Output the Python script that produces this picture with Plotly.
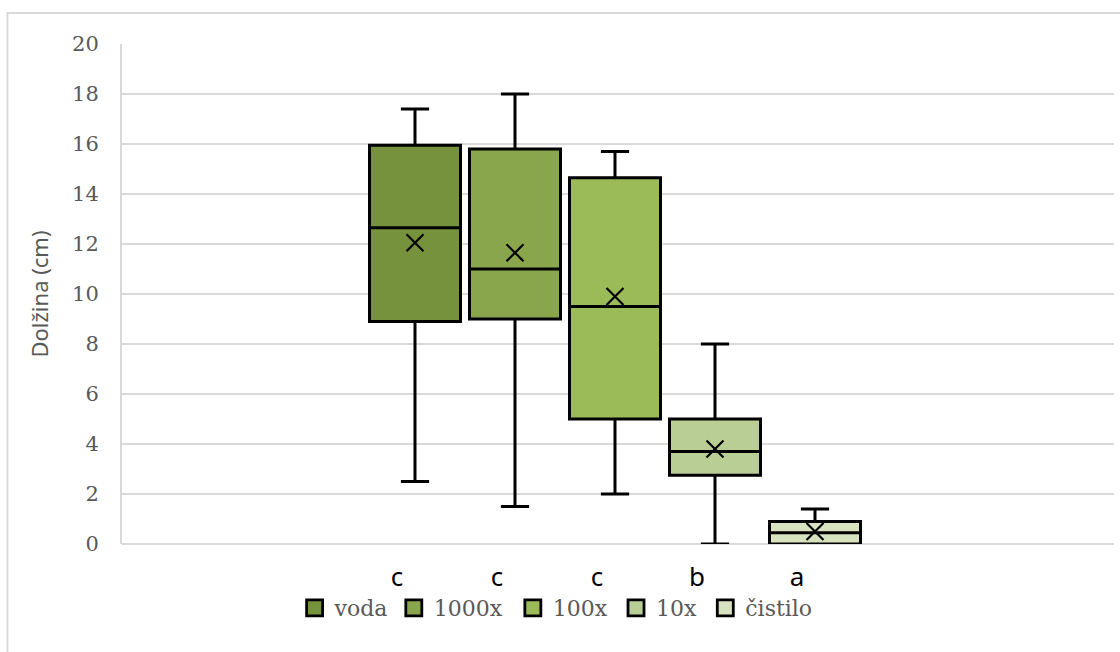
import plotly.graph_objects as go

# Five treatments, each summarised by its box-plot statistics (length in cm)
series_names = ["voda", "1000x", "100x", "10x", "čistilo"]
group_letters = ["c", "c", "c", "b", "a"]
positions = [1, 2, 3, 4, 5]
lower_whisker = [2.5, 1.5, 2.0, 0.0, 0.0]
q1_values = [8.9, 9.0, 5.0, 2.75, 0.0]
median_values = [12.65, 11.0, 9.5, 3.7, 0.45]
q3_values = [15.95, 15.8, 14.65, 5.0, 0.9]
upper_whisker = [17.4, 18.0, 15.7, 8.0, 1.4]
mean_values = [12.05, 11.65, 9.9, 3.8, 0.5]
fill_colors = ["#76923C", "#8AA64D", "#9BBB59", "#B8CE95", "#D6E3BE"]
y_ticks = [0, 2, 4, 6, 8, 10, 12, 14, 16, 18, 20]

# Left edge (paper fraction) of each legend entry along the bottom row
legend_x = [0.174, 0.274, 0.394, 0.498, 0.588]

GRID = "#D9D9D9"
TEXT_GRAY = "#595959"
SERIF = "DejaVu Serif"
SANS = "Noto Sans"

fig = go.Figure()

for i, name in enumerate(series_names):
    fig.add_trace(go.Box(
        x=[positions[i]],
        q1=[q1_values[i]],
        median=[median_values[i]],
        q3=[q3_values[i]],
        lowerfence=[lower_whisker[i]],
        upperfence=[upper_whisker[i]],
        width=0.91,
        whiskerwidth=0.31,
        fillcolor=fill_colors[i],
        line=dict(color="black", width=3),
        boxpoints=False,
        name=name,
        showlegend=False,
        hoverinfo="skip",
    ))

# Mean shown as an X marker on each box
fig.add_trace(go.Scatter(
    x=positions,
    y=mean_values,
    mode="markers",
    marker=dict(symbol="x-thin", size=17, line=dict(color="black", width=2.2)),
    showlegend=False,
    hoverinfo="skip",
))

# Square legend keys, one legend box per entry so spacing can be set
legend_layout = {}
for i, name in enumerate(series_names):
    key = "legend" if i == 0 else f"legend{i + 1}"
    fig.add_trace(go.Scatter(
        x=[None], y=[None],
        mode="markers",
        name=name,
        legend=key,
        marker=dict(symbol="square", size=21, color=fill_colors[i],
                    line=dict(color="black", width=2.8)),
    ))
    legend_layout[key] = dict(
        orientation="h",
        x=legend_x[i], xanchor="left",
        y=-0.128, yanchor="middle",
        font=dict(family=SERIF, size=22, color=TEXT_GRAY),
        itemsizing="trace",
        bgcolor="rgba(0,0,0,0)",
    )

# Outer chart frame
fig.add_shape(type="rect", xref="paper", yref="paper",
              x0=-0.1155, x1=1.2, y0=-0.4, y1=1.062,
              line=dict(color=GRID, width=2), fillcolor="rgba(0,0,0,0)",
              layer="below")

fig.update_layout(
    width=1120,
    height=652,
    margin=dict(l=122, r=6, t=44, b=108),
    paper_bgcolor="white",
    plot_bgcolor="white",
    showlegend=True,
    xaxis=dict(
        range=[-1.93, 7.99],
        tickmode="array",
        tickvals=positions,
        ticktext=group_letters,
        ticklabelshift=-18,
        ticks="outside",
        ticklen=10,
        tickcolor="rgba(0,0,0,0)",
        tickfont=dict(family=SANS, size=26, color="black"),
        showgrid=False,
        zeroline=False,
        showline=False,
    ),
    yaxis=dict(
        range=[0, 20],
        tickmode="array",
        tickvals=y_ticks,
        ticks="outside",
        ticklen=17,
        tickcolor="rgba(0,0,0,0)",
        tickfont=dict(family=SERIF, size=21, color=TEXT_GRAY),
        showgrid=True,
        gridcolor=GRID,
        gridwidth=2,
        zeroline=True,
        zerolinecolor=GRID,
        zerolinewidth=2,
        showline=True,
        linecolor=GRID,
        linewidth=2,
        title=dict(text="Dolžina (cm)", standoff=17,
                   font=dict(family=SANS, size=22, color=TEXT_GRAY)),
    ),
    **legend_layout,
)

fig.write_html("out.html")
